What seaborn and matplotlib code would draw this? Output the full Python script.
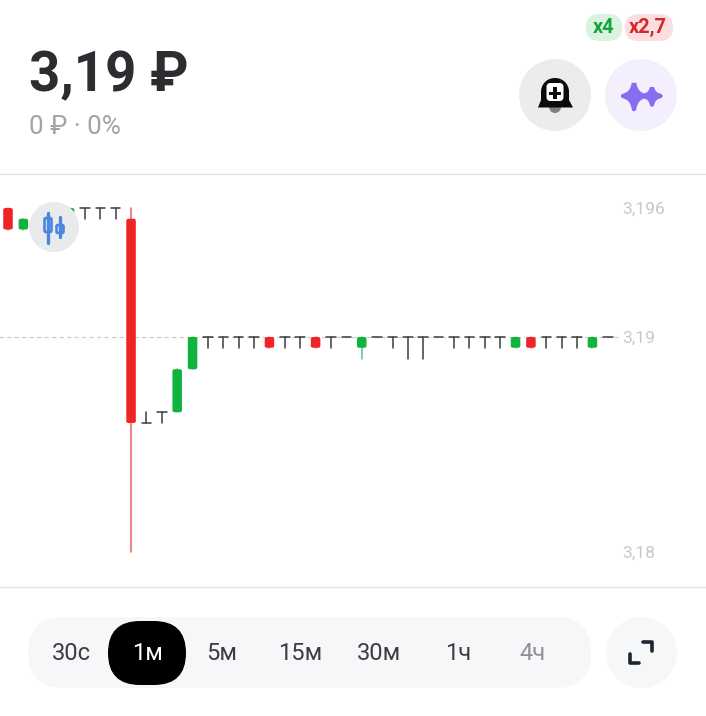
import matplotlib
matplotlib.use("Agg")
import matplotlib.pyplot as plt
from matplotlib.patches import FancyBboxPatch, Circle, PathPatch, Rectangle, Polygon
from matplotlib.path import Path
import pandas as pd
import seaborn as sns

# ---- data ----
opens = [3.196, 3.195, 3.1955, 3.1955, 3.1955, 3.196, 3.196, 3.196, 3.1955, 3.186,
         3.1865, 3.1865, 3.1885, 3.19, 3.19, 3.19, 3.19, 3.19, 3.19, 3.19,
         3.19, 3.19, 3.19, 3.1895, 3.19, 3.19, 3.19, 3.19, 3.19, 3.19,
         3.19, 3.19, 3.19, 3.1895, 3.19, 3.19, 3.19, 3.19, 3.1895, 3.19]
closes = [3.195, 3.1955, 3.1955, 3.1955, 3.196, 3.196, 3.196, 3.196, 3.186, 3.186,
          3.1865, 3.1885, 3.19, 3.19, 3.19, 3.19, 3.19, 3.1895, 3.19, 3.19,
          3.1895, 3.19, 3.19, 3.19, 3.19, 3.19, 3.19, 3.19, 3.19, 3.19,
          3.19, 3.19, 3.19, 3.19, 3.1895, 3.19, 3.19, 3.19, 3.19, 3.19]
highs = [3.196, 3.1955, 3.1955, 3.1955, 3.196, 3.196, 3.196, 3.196, 3.196, 3.1865,
         3.1865, 3.1885, 3.19, 3.19, 3.19, 3.19, 3.19, 3.19, 3.19, 3.19,
         3.19, 3.19, 3.19, 3.19, 3.19, 3.19, 3.19, 3.19, 3.19, 3.19,
         3.19, 3.19, 3.19, 3.19, 3.19, 3.19, 3.19, 3.19, 3.19, 3.19]
lows = [3.195, 3.195, 3.1955, 3.1955, 3.1955, 3.1955, 3.1955, 3.1955, 3.18, 3.186,
        3.186, 3.1865, 3.1885, 3.1895, 3.1895, 3.1895, 3.1895, 3.1895, 3.1895, 3.1895,
        3.1895, 3.1895, 3.19, 3.189, 3.19, 3.1895, 3.189, 3.189, 3.19, 3.1895,
        3.1895, 3.1895, 3.1895, 3.1895, 3.1895, 3.1895, 3.1895, 3.1895, 3.1895, 3.19]
price_ticks = [3.18, 3.19, 3.196]
price_labels = ["3,18", "3,19", "3,196"]
last_price = 3.19
periods = ["30с", "1м", "5м", "15м", "30м", "1ч", "4ч"]
period_colors = ["#3b3d40", "#ffffff", "#3b3d40", "#3b3d40", "#3b3d40", "#3b3d40", "#8e9094"]
period_x = [71, 147, 222, 300, 379, 458, 533]

sns.set_theme(style="white", rc={"axes.facecolor": "white"})
plt.rcParams["font.family"] = ["Roboto", "DejaVu Sans"]

RED, GREEN, DARK = "#ee2426", "#0fb33e", "#3d3d3d"
fig = plt.figure(figsize=(7.06, 7.16), dpi=100, facecolor="white")
W, H = 706, 716
top, bottom = 174, 587
ax = fig.add_axes([0, 1 - bottom / H, 1, (bottom - top) / H])

# scales: 15.38 px per candle, 21500 px per rouble
PX_X, PX_Y = 15.38, 21500
ax.set_xlim(-8 / PX_X, (W - 8) / PX_X)
ax.set_ylim(3.19 - (bottom - 337) / PX_Y, 3.19 + (337 - top) / PX_Y)

df = pd.DataFrame({"i": range(len(opens)), "o": opens, "c": closes, "h": highs, "l": lows})
df["kind"] = ["doji" if o == c else ("up" if c > o else "down") for o, c in zip(opens, closes)]

ax.plot([-1, 39.8], [last_price, last_price], color="#cfcfcf", lw=0.9, ls=(0, (3.5, 2.5)), zorder=1)

wicks = df.melt(id_vars=["i", "kind"], value_vars=["l", "h"], value_name="price")
sns.lineplot(data=wicks, x="i", y="price", hue="kind", units="i", estimator=None, sort=False,
             palette={"doji": DARK, "up": "#55c878", "down": "#e8615f"}, lw=1.1, legend=False,
             ax=ax, zorder=2)

dj = df[df.kind == "doji"]
caps = pd.concat([pd.DataFrame({"x": dj.i - 0.31, "price": dj.c, "u": dj.i}),
                  pd.DataFrame({"x": dj.i + 0.31, "price": dj.c, "u": dj.i})])
sns.lineplot(data=caps, x="x", y="price", units="u", estimator=None, sort=False,
             color=DARK, lw=1.1, legend=False, ax=ax, zorder=3)

for _, r in df[df.kind != "doji"].iterrows():
    y0, y1 = min(r.o, r.c), max(r.o, r.c)
    bw, inset = 0.31, 2 / PX_X
    ax.add_patch(FancyBboxPatch((r.i - bw + inset, y0 + 2 / PX_Y),
                                2 * (bw - inset), y1 - y0 - 4 / PX_Y,
                                boxstyle=f"round,pad={inset},rounding_size={inset}",
                                mutation_aspect=PX_X / PX_Y,
                                fc=GREEN if r.kind == "up" else RED, ec="none", zorder=4))

ax.set_xlabel(""); ax.set_ylabel(""); ax.set_xticks([])
ax.set_yticks(price_ticks, price_labels)
ax.yaxis.tick_right()
ax.tick_params(axis="y", length=0, pad=-60.3, labelsize=12.6, labelcolor="#c6c8ca")
for s in ("left", "right"):
    ax.spines[s].set_visible(False)
for s in ("top", "bottom"):
    ax.spines[s].set_color("#e4e4e6")
    ax.spines[s].set_linewidth(1)

# ---- interface overlay in pixel coordinates ----
ui = fig.add_axes([0, 0, 1, 1], facecolor="none")
ui.set_xlim(0, W); ui.set_ylim(H, 0); ui.axis("off")

def pill(x0, y0, x1, y1, color, r=None):
    r = (y1 - y0) / 2 if r is None else r
    ui.add_patch(FancyBboxPatch((x0 + r, y0 + r), x1 - x0 - 2 * r, y1 - y0 - 2 * r,
                                boxstyle=f"round,pad={r},rounding_size={r}", fc=color, ec="none"))

ui.text(29, 91, "3,19 ₽", fontsize=39.3, fontweight="bold", color="#2c2d30", va="baseline")
ui.text(29, 134, "0 ₽ · 0%", fontsize=18.7, color="#a0a3a8", va="baseline")

pill(586, 14, 622, 41, "#d9f3df")
pill(625, 14, 673, 41, "#fbdfe0")
ui.text(604, 27.5, "x4", fontsize=14.4, fontweight="bold", color="#15a441", ha="center", va="center")
ui.text(648, 27.5, "x2,7", fontsize=14.4, fontweight="bold", color="#d5262e", ha="center", va="center")

ui.add_patch(Circle((555, 95), 36, fc="#ebecee", ec="none"))
ui.add_patch(Circle((641, 95), 36, fc="#f3effd", ec="none"))

# bell
ui.add_patch(Circle((555, 107), 6, fc="#7d7f82", ec="none"))
C4 = Path.CURVE4
bell = Path([(541, 104), (541, 92), (541, 84), (547, 78), (555, 78),
             (563, 78), (569, 84), (569, 92), (569, 104), (541, 104)],
            [Path.MOVETO, Path.LINETO, C4, C4, C4, C4, C4, C4, Path.LINETO, Path.CLOSEPOLY])
ui.add_patch(PathPatch(bell, fc="#0b0b0b", ec="none"))
ui.add_patch(Polygon([(541, 100), (569, 100), (573, 107.5), (538, 107.5)], fc="#0b0b0b", ec="none"))
ui.add_patch(FancyBboxPatch((550.5, 87), 9, 10, boxstyle="round,pad=4,rounding_size=4", fc="white", ec="none"))
ui.add_patch(Rectangle((549, 91.7), 12, 3.4, fc="#0b0b0b", ec="none"))
ui.add_patch(Rectangle((553.3, 87.4), 3.4, 12, fc="#0b0b0b", ec="none"))

# sparkles
def star(cx, cy, rx, ry, k=0.14):
    pts = [(cx, cy - ry), (cx + k * rx, cy - k * ry), (cx + rx, cy), (cx + k * rx, cy + k * ry),
           (cx, cy + ry), (cx - k * rx, cy + k * ry), (cx - rx, cy), (cx - k * rx, cy - k * ry),
           (cx, cy - ry)]
    codes = [Path.MOVETO] + [Path.CURVE3] * 8
    ui.add_patch(PathPatch(Path(pts, codes), fc="#8a6cf1", ec="#8a6cf1", lw=3.2, joinstyle="round"))
star(634, 96, 11, 13)
star(652, 96, 8.5, 8.5)

# candle switcher
ui.add_patch(Circle((54, 227), 25, fc="#e9eaec", ec="none"))
BLUE = "#4a86df"
for x, y0, y1, b0, b1 in [(48, 213, 243, 218, 232), (60, 217, 237, 225, 233)]:
    ui.plot([x, x], [y0, y1], color=BLUE, lw=2.4, solid_capstyle="round")
    ui.add_patch(FancyBboxPatch((x - 2.5, b0 + 1), 5, b1 - b0 - 2, boxstyle="round,pad=1,rounding_size=1.5",
                                fc="#e9eaec", ec=BLUE, lw=1.9))

# period selector
pill(28, 617, 591, 688, "#f5f7f8")
pill(108, 621, 186, 685, "#000000")
for x, label, col in zip(period_x, periods, period_colors):
    ui.text(x, 653, label, fontsize=17, color=col, ha="center", va="center")

ui.add_patch(Circle((641.5, 652.5), 35.5, fc="#f5f7f8", ec="none"))
DK = "#1d2430"
ui.plot([643, 652, 652], [642, 642, 651], color=DK, lw=2.6, solid_joinstyle="round", solid_capstyle="round")
ui.plot([630, 630, 639], [654, 663, 663], color=DK, lw=2.6, solid_joinstyle="round", solid_capstyle="round")

fig.savefig("out.png", dpi=100)
